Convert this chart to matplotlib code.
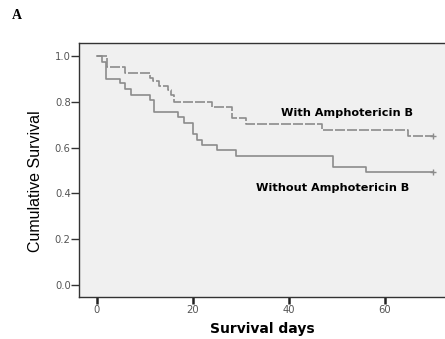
import matplotlib.pyplot as plt

# Kaplan-Meier steps: day of event and survival after it
dias_com = [0, 2.1, 5.9, 11.1, 11.8, 12.9, 14.9, 15.5, 16.2, 24.0, 28.1, 31.1, 46.9, 64.9, 70.1]
surv_com = [1.0, 0.952, 0.927, 0.905, 0.89, 0.87, 0.852, 0.83, 0.80, 0.778, 0.728, 0.703, 0.677, 0.651, 0.651]

dias_sem = [0, 1.0, 1.95, 4.9, 5.9, 7.1, 11.1, 12.0, 17.0, 18.1, 20.0, 21.0, 22.0, 25.1, 29.0, 49.2, 56.1, 70.1]
surv_sem = [1.0, 0.975, 0.902, 0.882, 0.855, 0.832, 0.807, 0.757, 0.734, 0.71, 0.658, 0.635, 0.611, 0.588, 0.563, 0.514, 0.492, 0.492]

xticks = [0, 20, 40, 60]
yticks = [0.0, 0.2, 0.4, 0.6, 0.8, 1.0]

cor_linha = '#8c8c8c'

fig = plt.figure(figsize=(4.45, 3.39), dpi=100)
ax = fig.add_axes([0.1775, 0.124, 0.8225, 0.749])
ax.set_facecolor('#f0f0f0')

ax.plot(dias_sem, surv_sem, drawstyle='steps-post', color=cor_linha, lw=1.2)
linha, = ax.plot(dias_com, surv_com, drawstyle='steps-post', color=cor_linha, lw=1.2)
linha.set_dashes([6, 1.2])

# marcas de censura no fim
ax.plot(dias_com[-1], surv_com[-1], '+', color=cor_linha, ms=5, mew=1)
ax.plot(dias_sem[-1], surv_sem[-1], '+', color=cor_linha, ms=5, mew=1)

ax.set_xlim(-3.7, 72.6)
ax.set_ylim(-0.052, 1.057)
ax.set_xticks(xticks)
ax.set_yticks(yticks)
ax.set_xticklabels([str(t) for t in xticks])
ax.set_yticklabels([f'{t:.1f}' for t in yticks])

for lado in ['left', 'bottom', 'top']:
    ax.spines[lado].set_color('#333333')
    ax.spines[lado].set_linewidth(1.0)
ax.spines['right'].set_visible(False)

ax.tick_params(axis='y', direction='out', length=5.5, width=1, colors='#333333',
               labelsize=7.2, labelcolor='#555555', pad=0.5)
ax.tick_params(axis='x', direction='out', length=5, width=1.8, colors='#222222',
               labelsize=7.2, labelcolor='#555555', pad=1)

ax.set_ylabel('Cumulative Survival', fontsize=11.5, family=['Liberation Sans', 'DejaVu Sans'])
ax.yaxis.set_label_coords(-0.098, 0.455)
ax.set_xlabel('Survival days', fontsize=10, fontweight='bold', labelpad=5)

ax.text(38.4, 0.751, 'With Amphotericin B', fontsize=8.1, fontweight='bold',
        ha='left', va='center')
ax.text(33.2, 0.424, 'Without Amphotericin B', fontsize=8.1, fontweight='bold',
        ha='left', va='center')

fig.text(0.027, 0.955, 'A', fontsize=10, fontweight='bold', family=['Liberation Serif', 'DejaVu Serif'],
         ha='left', va='center')

plt.savefig('out.png', dpi=100)
